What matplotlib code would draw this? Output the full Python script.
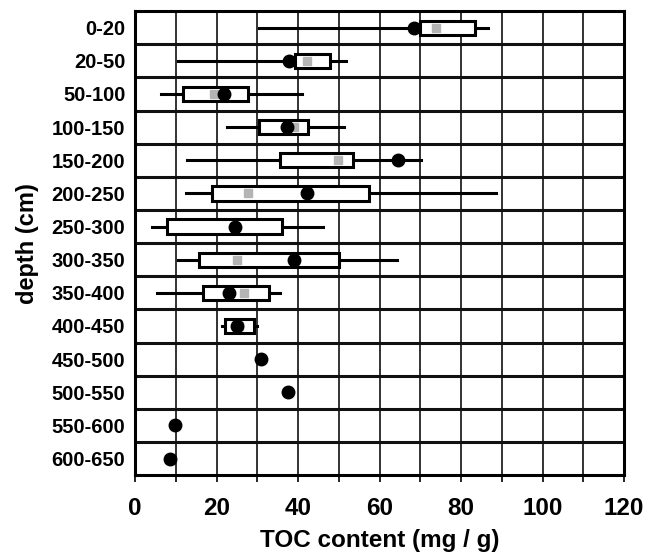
import matplotlib
matplotlib.use("Agg")
import matplotlib.pyplot as plt
from matplotlib.patches import Rectangle

depths = ["0-20", "20-50", "50-100", "100-150", "150-200", "200-250", "250-300",
          "300-350", "350-400", "400-450", "450-500", "500-550", "550-600", "600-650"]
whisker_lo = [30.5, 10.5, 6.4, 22.6, 12.8, 12.5, 4.1, 10.5, 5.4, 21.3, None, None, None, None]
box_lo     = [70.0, 39.3, 11.7, 30.5, 35.7, 18.9, 7.9, 15.8, 16.6, 22.1, None, None, None, None]
box_hi     = [83.4, 47.9, 27.8, 42.5, 53.4, 57.5, 36.1, 50.0, 33.0, 29.3, None, None, None, None]
whisker_hi = [86.5, 51.8, 40.9, 51.2, 70.2, 88.6, 46.1, 64.3, 35.7, 29.9, None, None, None, None]
medians    = [73.9, 42.2, 19.5, 39.0, 49.9, 27.8, 24.5, 25.0, 26.7, 25.5, None, None, None, None]
means      = [68.4, 37.9, 21.8, 37.3, 64.5, 42.1, 24.5, 38.9, 23.0, 25.0, 30.8, 37.5, 9.9, 8.7]

plt.rcParams['font.family'] = ['Liberation Sans', 'DejaVu Sans']
fig = plt.figure(figsize=(6.46, 5.57), dpi=100)
ax = fig.add_axes([0.209, 0.147, 0.757, 0.833])

n = len(depths)
ax.set_xlim(0, 120)
ax.set_ylim(n - 0.5, -0.5)

# grid
for xv in range(10, 120, 10):
    ax.axvline(xv, color='#222222', lw=1.3, zorder=1)
for i in range(n - 1):
    ax.axhline(i + 0.5, color='#111111', lw=2.2, zorder=1)

bh = 0.43
for i in range(n):
    if box_lo[i] is not None:
        ax.plot([whisker_lo[i], box_lo[i]], [i, i], color='black', lw=2.2, zorder=2)
        ax.plot([box_hi[i], whisker_hi[i]], [i, i], color='black', lw=2.2, zorder=2)
        ax.add_patch(Rectangle((box_lo[i], i - bh / 2), box_hi[i] - box_lo[i], bh,
                               facecolor='white', edgecolor='black', lw=2.2, zorder=3))
        ax.plot(medians[i], i, marker='s', ms=6, color='#b4b4b4', mec='#b4b4b4', zorder=4, ls='none')
    ax.plot(means[i], i, marker='o', ms=9, color='black', zorder=5, ls='none')

ax.set_yticks(range(n))
ax.set_yticklabels(depths, fontsize=14.5, fontweight='bold')
ax.tick_params(axis='y', length=0, pad=7)
ax.set_xticks(range(0, 121, 20))
ax.set_xticks(range(0, 121, 10), minor=True)
ax.set_xticklabels([str(v) for v in range(0, 121, 20)], fontsize=17.5, fontweight='bold')
ax.tick_params(axis='x', which='both', length=5, width=1.2, direction='out', pad=11)
for s in ax.spines.values():
    s.set_linewidth(2.2)
ax.set_xlabel("TOC content (mg / g)", fontsize=17.5, fontweight='bold', labelpad=6)
ax.set_ylabel("depth (cm)", fontsize=17, fontweight='bold', labelpad=9)

fig.savefig("out.png", dpi=100)
